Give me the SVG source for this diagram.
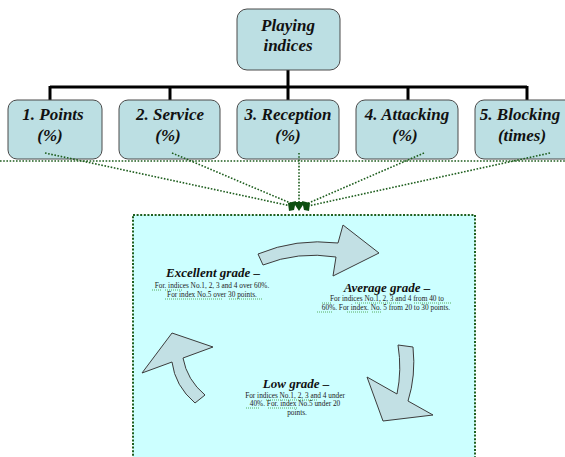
<svg xmlns="http://www.w3.org/2000/svg" width="565" height="457" viewBox="0 0 565 457">
<style>
.box{fill:#bcdfe3;stroke:#4a4a4a;stroke-width:1}
.bt{font-family:"Liberation Serif",serif;font-weight:bold;font-style:italic;font-size:17px;fill:#111;text-anchor:middle}
.gt{font-family:"Liberation Serif",serif;font-weight:bold;font-style:italic;font-size:13px;fill:#111;text-anchor:middle}
.st{font-family:"Liberation Serif",serif;font-size:7.3px;fill:#222;text-anchor:middle}
.tree{stroke:#000;stroke-width:3;fill:none}
.dot{stroke:#1e5e1e;stroke-width:1.6;stroke-dasharray:1.6 1.6;fill:none}
.arr{fill:#c2e0e4;stroke:#3c3c3c;stroke-width:1}
.ul{stroke:#3a9a3a;stroke-width:0.8;stroke-dasharray:1 1;fill:none}
.head{fill:#0f4f12}
</style>
<rect width="565" height="457" fill="#ffffff"/>

<g id="connectors">
  <line class="tree" x1="288" y1="70" x2="288" y2="100" stroke-width="4"/>
  <line class="tree" x1="50" y1="87" x2="527" y2="87"/>
  <line class="tree" x1="50" y1="86" x2="50" y2="100"/>
  <line class="tree" x1="170" y1="86" x2="170" y2="100"/>
  <line class="tree" x1="408" y1="86" x2="408" y2="100"/>
  <line class="tree" x1="527" y1="86" x2="527" y2="100"/>
</g>

<g id="node-top">
  <rect class="box" x="237" y="9" width="103" height="61" rx="10"/>
  <text class="bt" x="288" y="31">Playing</text>
  <text class="bt" x="288" y="51">indices</text>
</g>
<g id="node-1">
  <rect class="box" x="8" y="100" width="94" height="59" rx="9"/>
  <text class="bt" x="53" y="120">1. Points</text>
  <text class="bt" x="50" y="141">(%)</text>
</g>
<g id="node-2">
  <rect class="box" x="119" y="100" width="101" height="59" rx="9"/>
  <text class="bt" x="170" y="120">2. Service</text>
  <text class="bt" x="168" y="141">(%)</text>
</g>
<g id="node-3">
  <rect class="box" x="237" y="100" width="102" height="59" rx="9"/>
  <text class="bt" x="288" y="120">3. Reception</text>
  <text class="bt" x="288" y="141">(%)</text>
</g>
<g id="node-4">
  <rect class="box" x="356" y="100" width="102" height="59" rx="9"/>
  <text class="bt" x="407" y="120">4. Attacking</text>
  <text class="bt" x="405" y="141">(%)</text>
</g>
<g id="node-5">
  <rect class="box" x="475" y="100" width="104" height="59" rx="9"/>
  <text class="bt" x="520" y="120">5. Blocking</text>
  <text class="bt" x="522" y="141">(times)</text>
</g>

<g id="dotted-connectors">
  <line class="dot" x1="0" y1="161" x2="565" y2="161"/>
  <line class="dot" x1="45" y1="153" x2="291" y2="206"/>
  <line class="dot" x1="172" y1="153" x2="295" y2="205"/>
  <line class="dot" x1="299" y1="153" x2="299" y2="203"/>
  <line class="dot" x1="424" y1="153" x2="304" y2="205"/>
  <line class="dot" x1="550" y1="153" x2="308" y2="206"/>
  <polygon class="head" points="293,202 305,202 299,211"/>
  <polygon class="head" points="288,203 296,201 294,210 289,211"/>
  <polygon class="head" points="302,201 310,203 309,211 304,210"/>
</g>

<g id="node-grades">
  <rect x="133" y="215" width="342" height="250" fill="#ccffff" stroke="#1e5e1e" stroke-width="2" stroke-dasharray="2 1.6"/>
</g>

<g id="cycle-arrows">
  <path class="arr" d="M258,254 Q296,238 338,243 L343,225 L379,253 L333,276 L336,257 Q298,251 263,265 Z"/>
  <path class="arr" d="M398,345 L413,347 Q416,376 408,401 L433,415 L383,421 L367,377 L397,394 Q402,370 398,345 Z"/>
  <path class="arr" d="M195,403 Q175,386 172,362 L142,373 L172,333 L213,347 L183,358 Q187,380 205,395 Z"/>
</g>

<g id="node-excellent">
  <text class="gt" x="213" y="277">Excellent grade –</text>
  <text class="st" x="212" y="288">For. indices No.1, 2, 3 and 4 over 60%.</text>
  <text class="st" x="212" y="297">For index No.5 over 30 points.</text>
  <path class="ul" d="M152,290 h10 M165,290 h18 M165,299 h58 M229,299 h33"/>
</g>
<g id="node-average">
  <text class="gt" x="387" y="292">Average grade –</text>
  <text class="st" x="387" y="301">For indices No.1, 2, 3 and 4 from 40 to</text>
  <text class="st" x="386" y="310">60%. For index. No. 5 from 20 to 30 points.</text>
  <path class="ul" d="M322,303 h10 M355,303 h45 M414,303 h38 M317,312 h15 M347,312 h22 M372,312 h10"/>
</g>
<g id="node-low">
  <text class="gt" x="296" y="388">Low grade –</text>
  <text class="st" x="295" y="398">For indices No.1, 2, 3 and 4 under</text>
  <text class="st" x="295" y="406">40%.  For. index No.5 under  20</text>
  <text class="st" x="297" y="415">points.</text>
  <path class="ul" d="M266,400 h52 M246,408 h14 M268,408 h30"/>
</g>
</svg>
